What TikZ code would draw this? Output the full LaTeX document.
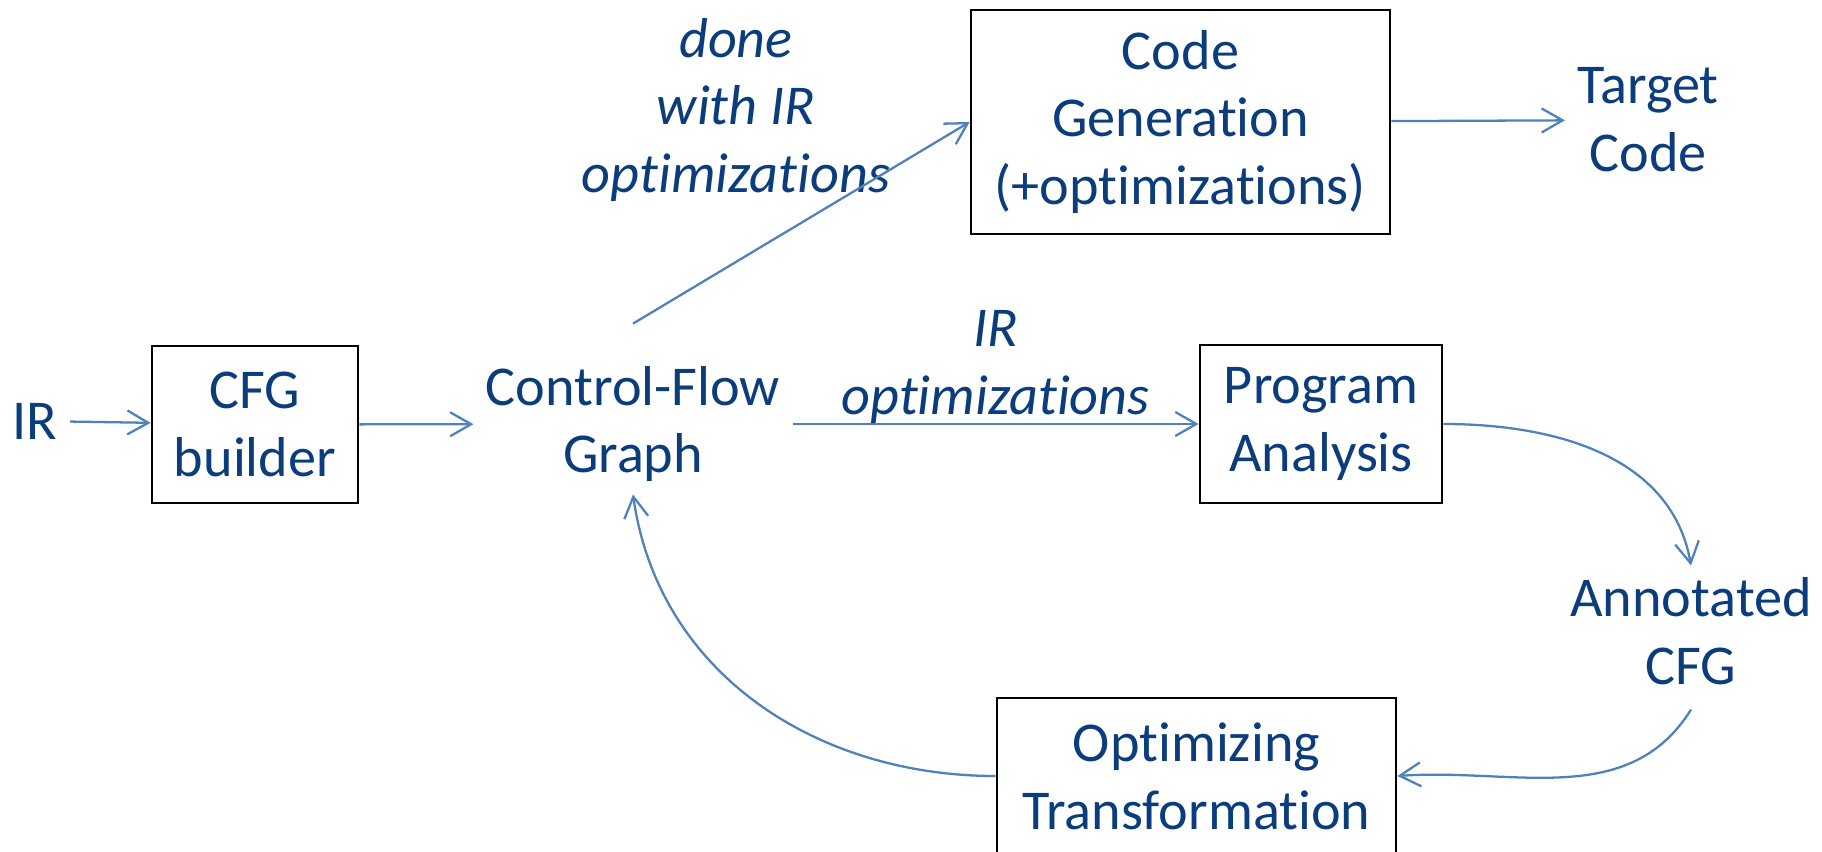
\documentclass[tikz,border=0pt]{standalone}
\usepackage{fontspec}
\setmainfont{Carlito}[Ligatures=NoCommon]
\usetikzlibrary{arrows.meta}
\definecolor{txtblue}{HTML}{0B3D7C}
\definecolor{arrblue}{HTML}{4F81BD}
\begin{document}
\begin{tikzpicture}[
		every node/.style={font=\fontsize{16}{19.3}\selectfont, text=txtblue, align=center},
		box/.style={draw=black, line width=0.8pt, inner sep=0pt},
		lbl/.style={font=\fontsize{16}{19.3}\selectfont\itshape},
		flow/.style={draw=arrblue, line width=0.65pt, -{Straight Barb[length=2.1mm,width=2.4mm]}}
	]
		\useasboundingbox (0,0) rectangle (18.22,8.51);
		\node (ir) at (0.35,4.30) {IR};
		\node[box, minimum width=2.06cm, minimum height=1.57cm] (cfgb) at (2.55,4.265) {CFG\\builder};
		\node (cfg) at (6.33,4.27) {Control-Flow\\Graph};
		\node[box, minimum width=4.19cm, minimum height=2.24cm] (codegen) at (11.805,7.29) {Code\\Generation\\(+optimizations)};
		\node (target) at (16.48,7.31) {Target\\Code};
		\node[box, minimum width=2.42cm, minimum height=1.58cm] (progan) at (13.21,4.27) {Program\\Analysis};
		\node (annot) at (16.91,2.195) {Annotated\\CFG};
		\node[box, minimum width=3.99cm, minimum height=1.56cm] (opttr) at (11.965,0.75) {Optimizing\\Transformation};
		\node[lbl] (done) at (7.36,7.41) {done\\with IR\\optimizations};
		\draw[flow] (ir) -- (cfgb);
		\draw[flow] (cfgb) -- (cfg);
		\draw[flow] ([yshift=3mm]cfg.north) -- (codegen.west);
		\draw[flow] (codegen) -- (target);
		\draw[flow] (cfg) -- node[lbl, above=-1.2mm] (irlbl) {IR\\optimizations} (progan);
		\draw[flow] (progan.east) to[out=0, in=100] (annot.north);
		\draw[flow] ([yshift=-1.2mm]annot.south) to[out=-122, in=4] (opttr.east);
		\draw[flow] (opttr.west) to[out=180, in=-82] (cfg.south);
	\end{tikzpicture}
\end{document}
